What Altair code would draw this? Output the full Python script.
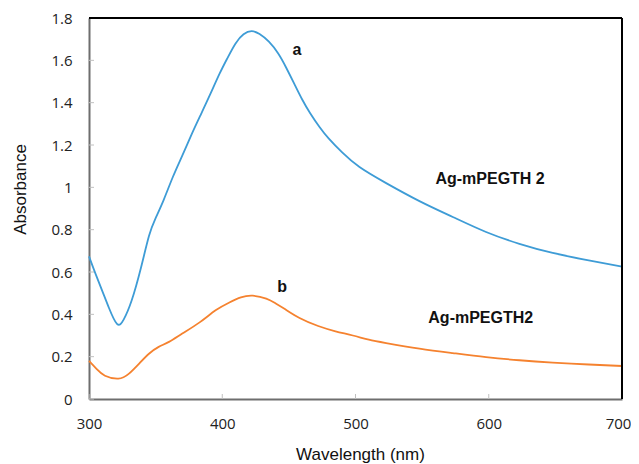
import altair as alt
import pandas as pd

# Curve a (blue)
wl_a = [300, 305, 310, 315, 321, 326, 332, 339, 345, 350, 356, 363, 370, 377, 384, 391,
        398, 404, 410, 416, 422, 428, 435, 442, 448, 454, 460, 466, 473, 480, 490, 503,
        523, 548, 573, 598, 623, 648, 675, 700]
abs_a = [0.674, 0.59, 0.51, 0.43, 0.355, 0.375, 0.465, 0.62, 0.77, 0.855, 0.94, 1.05, 1.15,
         1.25, 1.345, 1.44, 1.537, 1.612, 1.68, 1.723, 1.738, 1.724, 1.688, 1.632, 1.565,
         1.49, 1.415, 1.35, 1.285, 1.23, 1.165, 1.096, 1.02, 0.935, 0.86, 0.789, 0.733,
         0.69, 0.655, 0.625]

# Curve b (orange)
wl_b = [300, 306, 312, 322, 330, 338, 345, 352, 360, 370, 383, 395, 405, 414, 423, 433,
        440, 447, 458, 472, 485, 498, 510, 523, 548, 573, 598, 623, 648, 675, 700]
abs_b = [0.18, 0.14, 0.11, 0.096, 0.12, 0.17, 0.214, 0.245, 0.27, 0.309, 0.362, 0.419,
         0.455, 0.48, 0.488, 0.474, 0.452, 0.425, 0.383, 0.345, 0.32, 0.300, 0.28, 0.264,
         0.238, 0.217, 0.198, 0.183, 0.172, 0.163, 0.156]

x_ticks = [300, 400, 500, 600, 700]
y_ticks = [0, 0.2, 0.4, 0.6, 0.8, 1.0, 1.2, 1.4, 1.6, 1.8]

# Annotations
ann_text = ["a", "b", "Ag-mPEGTH 2", "Ag-mPEGTH2"]
ann_x = [456, 445, 601, 594]
ann_y = [1.647, 0.527, 1.041, 0.381]

# Frame edges (top at y max, right at x max)
frame_x = [300, 700]
frame_y = [1.8, 1.8]

W, H = 533, 381
BLUE = "#3E9CD6"
ORANGE = "#F5822F"

df = pd.concat([
    pd.DataFrame({"wl": wl_a, "abs": abs_a, "s": "a"}),
    pd.DataFrame({"wl": wl_b, "abs": abs_b, "s": "b"}),
])
ann = pd.DataFrame({"t": ann_text, "x": ann_x, "y": ann_y})

xs = alt.Scale(domain=[300, 700], nice=False, zero=False)
ys = alt.Scale(domain=[0, 1.8], nice=False)

lines = alt.Chart(df).mark_line(strokeWidth=1.8, interpolate="natural").encode(
    x=alt.X("wl:Q", scale=xs, axis=alt.Axis(
        values=x_ticks, ticks=False, grid=False, labelPadding=17, labelFontSize=15,
        labelFont="Open Sans", labelColor="#222", labelFlush=False, labelOverlap=False,
        labelOffset={"condition": {"test": "datum.value == 700", "value": -4}, "value": 0},
        title="Wavelength (nm)",
        titleFont="Liberation Sans", titleFontSize=17, titleFontWeight="normal",
        titleColor="#111", titleX=271, titleY=55, titleBaseline="middle",
        domainColor="#6e6e6e", domainWidth=2)),
    y=alt.Y("abs:Q", scale=ys, axis=alt.Axis(
        values=y_ticks, ticks=False, grid=False, labelPadding=17, labelFontSize=15,
        labelFont="Open Sans", labelColor="#222", labelFlush=False, labelOverlap=False,
        title="Absorbance",
        labelExpr="datum.value == 1 ? '1' : datum.value == 0 ? '0' : format(datum.value, '.1f')",
        titleFont="Liberation Sans", titleFontSize=17, titleFontWeight="normal",
        titleColor="#111", titleX=-69, titleY=171, titleAngle=-90, titleBaseline="middle",
        domainColor="#6e6e6e", domainWidth=2)),
    color=alt.Color("s:N", scale=alt.Scale(domain=["a", "b"], range=[BLUE, ORANGE]), legend=None),
)

texts = alt.Chart(ann).mark_text(font="Liberation Sans", fontWeight="bold", fontSize=16,
                                 color="#111", baseline="middle", align="center").encode(
    x=alt.X("x:Q", scale=xs), y=alt.Y("y:Q", scale=ys), text="t:N")

xt = alt.Chart(pd.DataFrame({"v": x_ticks})).mark_rule(color="#c0c0c0", strokeWidth=1).encode(
    x=alt.X("v:Q", scale=xs), y=alt.value(H - 5), y2=alt.value(H))
yt = alt.Chart(pd.DataFrame({"v": y_ticks})).mark_rule(color="#c0c0c0", strokeWidth=1).encode(
    y=alt.Y("v:Q", scale=ys), x=alt.value(0), x2=alt.value(5))

fdf = pd.DataFrame({"fx": frame_x, "fy": frame_y})
# top edge: filled bar 2px tall along y max
top_edge = alt.Chart(fdf).mark_rect(color="#000000", opacity=1).encode(
    x=alt.X("min(fx):Q", scale=xs), x2="max(fx):Q",
    y=alt.value(-1), y2=alt.value(1))
# right edge: filled bar 2px wide along x max
right_edge = alt.Chart(fdf).mark_rect(color="#000000", opacity=1).encode(
    x=alt.value(W - 1), x2=alt.value(W + 1),
    y=alt.Y("max(fy):Q", scale=ys), y2=alt.value(H))

chart = alt.layer(xt, yt, lines, texts, top_edge, right_edge).properties(
    width=W, height=H,
    background="white",
    autosize=alt.AutoSizeParams(type="none"),
    padding={"left": 81, "top": 10, "right": 9, "bottom": 65},
).configure_view(stroke=None)

chart.save("out.html", embed_options={"renderer": "svg", "actions": False})
